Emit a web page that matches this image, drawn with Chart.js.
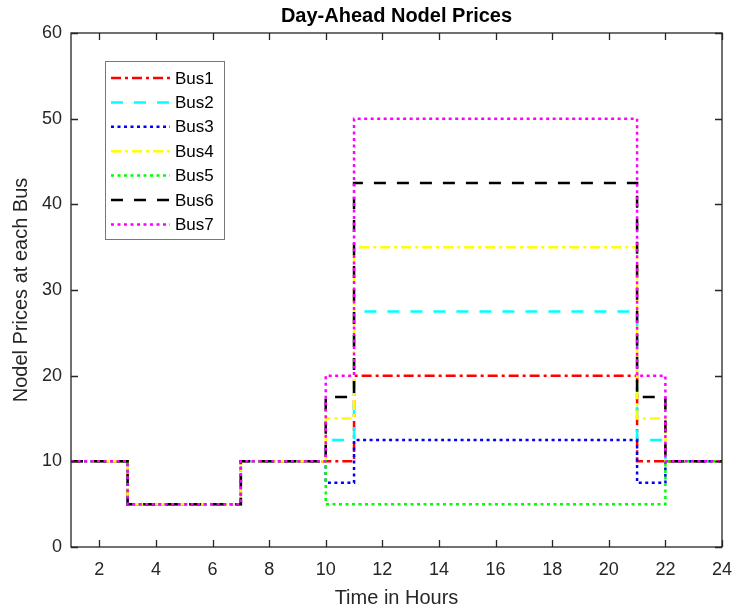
<!DOCTYPE html>
<html>
<head>
<meta charset="utf-8">
<script src="https://cdn.jsdelivr.net/npm/chart.js@4"></script>
<style>
  body { margin: 0; background: #fff; }
</style>
</head>
<body>
<canvas id="graph" width="733" height="611"></canvas>
<script>
var hours = [1, 2, 3, 4, 5, 6, 7, 8, 9, 10, 11, 12, 13, 14, 15, 16, 17, 18, 19, 20, 21, 22, 23, 24];
var xTicks = [2, 4, 6, 8, 10, 12, 14, 16, 18, 20, 22, 24];
var yTicks = [0, 10, 20, 30, 40, 50, 60];

var bus1 = [10, 10, 5, 5, 5, 5, 10, 10, 10, 10, 20, 20, 20, 20, 20, 20, 20, 20, 20, 20, 10, 10, 10, 10];
var bus2 = [10, 10, 5, 5, 5, 5, 10, 10, 10, 12.5, 27.5, 27.5, 27.5, 27.5, 27.5, 27.5, 27.5, 27.5, 27.5, 27.5, 12.5, 10, 10, 10];
var bus3 = [10, 10, 5, 5, 5, 5, 10, 10, 10, 7.5, 12.5, 12.5, 12.5, 12.5, 12.5, 12.5, 12.5, 12.5, 12.5, 12.5, 7.5, 10, 10, 10];
var bus4 = [10, 10, 5, 5, 5, 5, 10, 10, 10, 15, 35, 35, 35, 35, 35, 35, 35, 35, 35, 35, 15, 10, 10, 10];
var bus5 = [10, 10, 5, 5, 5, 5, 10, 10, 10, 5, 5, 5, 5, 5, 5, 5, 5, 5, 5, 5, 5, 10, 10, 10];
var bus6 = [10, 10, 5, 5, 5, 5, 10, 10, 10, 17.5, 42.5, 42.5, 42.5, 42.5, 42.5, 42.5, 42.5, 42.5, 42.5, 42.5, 17.5, 10, 10, 10];
var bus7 = [10, 10, 5, 5, 5, 5, 10, 10, 10, 20, 50, 50, 50, 50, 50, 50, 50, 50, 50, 50, 20, 10, 10, 10];

var busNames = ["Bus1", "Bus2", "Bus3", "Bus4", "Bus5", "Bus6", "Bus7"];
var busValues = [bus1, bus2, bus3, bus4, bus5, bus6, bus7];
var busColors = ["#ff0000", "#00ffff", "#0000ff", "#ffff00", "#00ff00", "#000000", "#ff00ff"];

// matlab line styles: -. -- : -. : -- :
var dashDot = [10, 4, 3, 4];
var dashed = [12, 11];
var dotted = [3, 3.5];
var busDashes = [dashDot, dashed, dotted, dashDot, dotted, dashed, dotted];

var axisColor = "#262626";
var fontFamily = "'Liberation Sans', Arial, sans-serif";

var datasets = busNames.map(function (name, i) {
    return {
        label: name,
        data: hours.map(function (h, j) { return { x: h, y: busValues[i][j] }; }),
        borderColor: busColors[i],
        backgroundColor: busColors[i],
        borderWidth: 2.5,
        borderDash: busDashes[i],
        stepped: 'before',
        pointRadius: 0,
        fill: false,
        order: busNames.length - i   // last bus on top like matlab
    };
});

// frame, inside ticks, title and legend box
var matlabLook = {
    id: 'matlabLook',
    afterDraw: function (chart) {
        var ctx = chart.ctx;
        var a = chart.chartArea;
        var xs = chart.scales.x, ys = chart.scales.y;
        ctx.save();
        ctx.strokeStyle = axisColor;
        ctx.lineWidth = 1.3;
        ctx.setLineDash([]);
        ctx.strokeRect(a.left, a.top, a.right - a.left, a.bottom - a.top);
        var tl = 7;
        ctx.beginPath();
        xTicks.forEach(function (v) {
            var px = Math.round(xs.getPixelForValue(v)) + 0.5;
            ctx.moveTo(px, a.bottom); ctx.lineTo(px, a.bottom - tl);
            ctx.moveTo(px, a.top); ctx.lineTo(px, a.top + tl);
        });
        yTicks.forEach(function (v) {
            var py = Math.round(ys.getPixelForValue(v)) + 0.5;
            ctx.moveTo(a.left, py); ctx.lineTo(a.left + tl, py);
            ctx.moveTo(a.right, py); ctx.lineTo(a.right - tl, py);
        });
        ctx.stroke();

        // title
        ctx.fillStyle = "#000";
        ctx.font = "bold 20px " + fontFamily;
        ctx.textAlign = "center";
        ctx.textBaseline = "middle";
        ctx.fillText("Day-Ahead Nodel Prices", (a.left + a.right) / 2, 16);

        // legend
        var lx = 105, ly = 61, lw = 119, lh = 178;
        ctx.fillStyle = "#fff";
        ctx.fillRect(lx, ly, lw, lh);
        ctx.strokeStyle = "#777";
        ctx.lineWidth = 1;
        ctx.strokeRect(lx + 0.5, ly + 0.5, lw, lh);
        ctx.font = "17px " + fontFamily;
        ctx.textAlign = "left";
        busNames.forEach(function (name, i) {
            var y = ly + 17 + i * 24.4;
            ctx.strokeStyle = busColors[i];
            ctx.lineWidth = 2.5;
            ctx.setLineDash(busDashes[i]);
            ctx.beginPath();
            ctx.moveTo(111, y);
            ctx.lineTo(170, y);
            ctx.stroke();
            ctx.fillStyle = "#000";
            ctx.fillText(name, 175, y + 1);
        });
        ctx.restore();
    }
};

var ctx1 = document.getElementById("graph").getContext('2d');

var priceChart = new Chart(ctx1, {
    type: 'line',
    data: { datasets: datasets },
    options: {
        responsive: false,
        animation: false,
        layout: { padding: { top: 33, right: 11, left: 0, bottom: 0 } },
        plugins: {
            legend: { display: false },
            title: { display: false },
            tooltip: { enabled: false }
        },
        scales: {
            x: {
                type: 'linear',
                min: 1,
                max: 24,
                grid: { display: false, drawTicks: false },
                border: { display: false },
                afterBuildTicks: function (scale) {
                    scale.ticks = xTicks.map(function (v) { return { value: v }; });
                },
                afterFit: function (scale) {
                    scale.height = 64;
                    scale.paddingLeft = 0;
                    scale.paddingRight = 0;
                },
                ticks: {
                    color: axisColor,
                    padding: 12,
                    maxRotation: 0,
                    autoSkip: false,
                    font: { family: fontFamily, size: 18 }
                },
                title: {
                    display: true,
                    text: "Time in Hours",
                    color: axisColor,
                    padding: { top: 0, bottom: 1 },
                    font: { family: fontFamily, size: 20 }
                }
            },
            y: {
                type: 'linear',
                min: 0,
                max: 60,
                grid: { display: false, drawTicks: false },
                border: { display: false },
                afterBuildTicks: function (scale) {
                    scale.ticks = yTicks.map(function (v) { return { value: v }; });
                },
                afterFit: function (scale) {
                    scale.width = 71;
                    scale.paddingTop = 0;
                    scale.paddingBottom = 0;
                },
                ticks: {
                    color: axisColor,
                    padding: 9,
                    autoSkip: false,
                    font: { family: fontFamily, size: 18 }
                },
                title: {
                    display: true,
                    text: "Nodel Prices at each Bus",
                    color: axisColor,
                    padding: { top: 9, bottom: 0 },
                    font: { family: fontFamily, size: 20 }
                }
            }
        }
    },
    plugins: [matlabLook]
});
</script>
</body>
</html>
